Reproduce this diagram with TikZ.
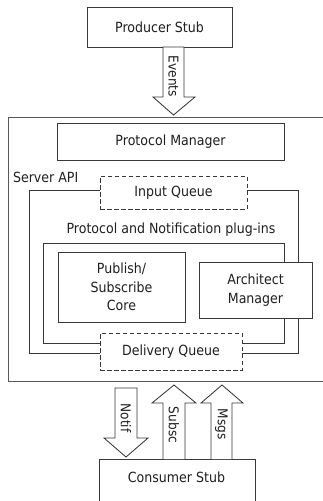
\documentclass[tikz,border=0pt]{standalone}
\usepackage{fontspec}
\setmainfont{DejaVu Sans}[FakeStretch=0.9]
\begin{document}
\begin{tikzpicture}[x=1pt,y=-1pt,
  every node/.style={inner sep=0pt,outer sep=0pt,text=black!88},
  ln/.style={draw=black!78,line width=0.85pt},
  box/.style={ln,fill=white,rectangle,align=center,font=\fontsize{14}{18.3}\selectfont},
  queue/.style={box,dashed,dash pattern=on 4.5pt off 2.5pt},
  lbl/.style={font=\fontsize{14}{18.3}\selectfont},
  alabel/.style={font=\fontsize{13.5}{15}\selectfont,rotate=-90},
  blockarrow/.style={ln,fill=white,line join=miter}]
\useasboundingbox (0,0) rectangle (323,501);
% outer server box
\draw[ln,draw=black!65] (8.5,117) rectangle (340,381);
% producer stub
\node[box,minimum width=145pt,minimum height=40pt] (prod) at (159.5,27) {Producer Stub};
% protocol manager
\node[box,minimum width=227pt,minimum height=37pt] (pm) at (170.5,141.5) {Protocol Manager};
% server API frame
\node[lbl,anchor=west] (api) at (13,177) {Server API};
\draw[ln] (29,190) rectangle (298,353);
% plug-ins frame
\node[lbl] (plug) at (171,230) {Protocol and Notification plug-ins};
\draw[ln] (43,243) rectangle (284,343);
% queues
\node[queue,minimum width=147pt,minimum height=33pt] (iq) at (173.5,192.5) {Input Queue};
\node[queue,minimum width=142pt,minimum height=37pt] (dq) at (171,351.5) {Delivery Queue};
% core boxes
\node[box,minimum width=127pt,minimum height=70pt] (core) at (121.5,287) {Publish/\\Subscribe\\Core};
\node[box,minimum width=113pt,minimum height=56pt] (am) at (255.5,290) {Architect\\Manager};
% consumer stub
\node[box,minimum width=156pt,minimum height=60pt,anchor=north] (cons) at (177,459) {};
\node[lbl] (constext) at (176.5,477) {Consumer Stub};
% Events arrow
\draw[blockarrow] (163,47) -- (184,47) -- (184,97) -- (195,97) -- (173.5,115) -- (153,97) -- (163,97) -- cycle;
\node[alabel] (ev) at (173.5,76.5) {Events};
% Notif arrow
\draw[blockarrow] (115,388) -- (137,388) -- (137,438) -- (148,438) -- (126,457) -- (104,438) -- (115,438) -- cycle;
\node[alabel] (no) at (126,418) {Notif};
% Subsc arrow
\draw[blockarrow] (163,459) -- (163,403) -- (152,403) -- (174,385) -- (196,403) -- (185,403) -- (185,459);
\node[alabel] (su) at (174,425) {Subsc};
% Msgs arrow
\draw[blockarrow] (211,459) -- (211,403) -- (201,403) -- (222,385) -- (243,403) -- (232,403) -- (232,459);
\node[alabel] (ms) at (221.5,424) {Msgs};
\end{tikzpicture}
\end{document}
